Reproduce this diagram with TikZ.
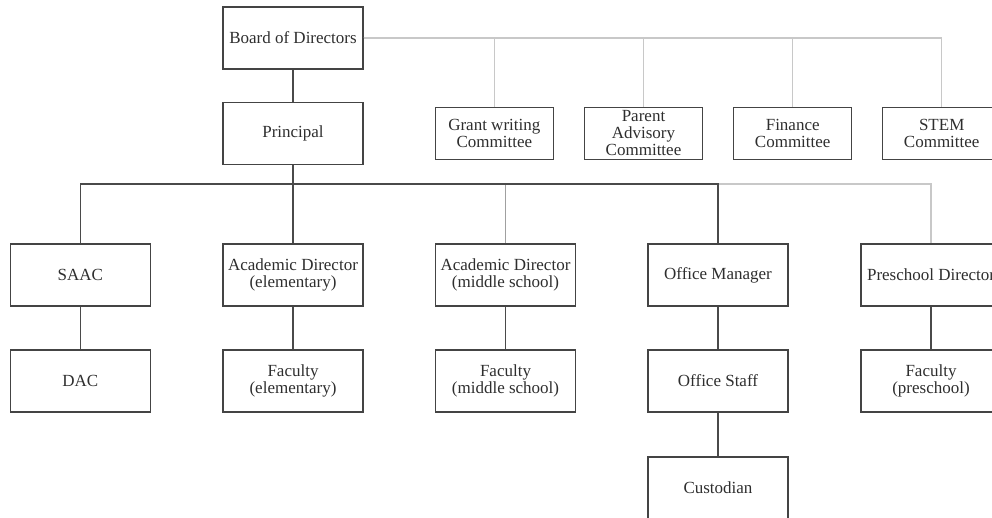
\documentclass[tikz,border=0pt]{standalone}
\usepackage{fontspec}
\setmainfont{Liberation Serif}
\definecolor{boxline}{HTML}{444444}
\definecolor{darkline}{HTML}{4A4A4A}
\definecolor{midline}{HTML}{A0A0A0}
\definecolor{lightline}{HTML}{C8C8C8}
\definecolor{txt}{HTML}{2E2E2E}
\begin{document}
\begin{tikzpicture}[x=1pt,y=-1pt,
  box/.style={draw=boxline, line width=1.2pt, rectangle, minimum width=140pt, minimum height=62pt,
    inner sep=0pt, align=center, text=txt, font=\fontsize{17}{17}\selectfont},
  cbox/.style={box, minimum width=118pt, minimum height=52pt},
  dark/.style={draw=darkline, line width=1.3pt},
  mid/.style={draw=midline, line width=1pt},
  light/.style={draw=lightline, line width=1.1pt}]
\useasboundingbox (0,0) rectangle (992,518);
% nodes
\node[box] (board) at (293,38) {Board of Directors};
\node[box] (prin) at (293,133.5) {Principal};
\node[cbox] (grant) at (494.3,133.5) {Grant writing\\Committee};
\node[cbox] (parent) at (643.5,133.5) {Parent\\Advisory\\Committee};
\node[cbox] (fin) at (792.7,133.5) {Finance\\Committee};
\node[cbox] (stem) at (941.7,133.5) {STEM\\Committee};
\node[box] (saac) at (80.3,275) {SAAC};
\node[box] (acadE) at (293,275) {Academic Director\\(elementary)};
\node[box] (acadM) at (505.5,275) {Academic Director\\(middle school)};
\node[box] (omgr) at (718,275) {Office Manager};
\node[box] (pre) at (931,275) {Preschool Director};
\node[box] (dac) at (80.3,381) {DAC};
\node[box] (facE) at (293,381) {Faculty\\(elementary)};
\node[box] (facM) at (505.5,381) {Faculty\\(middle school)};
\node[box] (staff) at (718,381) {Office Staff};
\node[box] (pfac) at (931,381) {Faculty\\(preschool)};
\node[box] (cust) at (718,488) {Custodian};
\coordinate (bus) at (293,184);
\coordinate (bus2) at (718,184);
% committee connectors
\path[light] (board.east) -| (stem.north);
\path[light] (board.east) -| (grant.north);
\path[light] (board.east) -| (parent.north);
\path[light] (board.east) -| (fin.north);
% main connectors
\path[dark] (board.south) -- (prin.north);
\path[light] (bus2) -| (pre.north);
\path[mid] (bus) -| (acadM.north);
\path[dark] (prin.south) -- (acadE.north);
\path[dark] (bus) -| (saac.north);
\path[dark] (bus) -| (omgr.north);
\path[dark] (saac.south) -- (dac.north);
\path[dark] (acadE.south) -- (facE.north);
\path[dark] (acadM.south) -- (facM.north);
\path[dark] (omgr.south) -- (staff.north);
\path[dark] (staff.south) -- (cust.north);
\path[dark] (pre.south) -- (pfac.north);
\end{tikzpicture}
\end{document}
